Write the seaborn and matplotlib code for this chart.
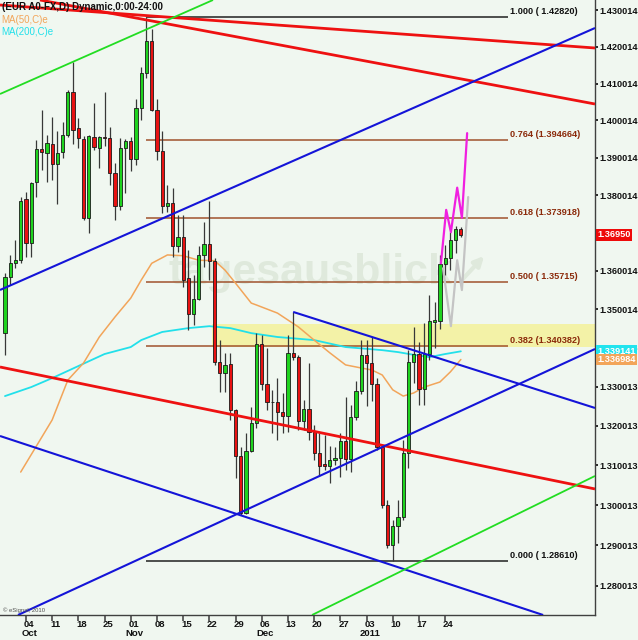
import numpy as np
import pandas as pd
import matplotlib
matplotlib.use("Agg")
import matplotlib.pyplot as plt
import matplotlib.transforms as mtransforms
import seaborn as sns
from matplotlib.ticker import FixedLocator, FixedFormatter, NullLocator

# ==============================
# DATA  (EUR A0-FX daily bars)
# ==============================
dates = pd.bdate_range("2010-09-28", "2011-01-27")

opens = [1.3438, 1.3584, 1.3620, 1.3628, 1.3790, 1.3674, 1.3835, 1.3923, 1.3913, 1.3937,
         1.3883, 1.3915, 1.3961, 1.4077, 1.3980, 1.3950, 1.3740, 1.3956, 1.3926, 1.3956,
         1.3953, 1.3860, 1.3771, 1.3926, 1.3945, 1.3897, 1.4035, 1.4129, 1.4216, 1.4028,
         1.3918, 1.3771, 1.3779, 1.3666, 1.3689, 1.3581, 1.3487, 1.3526, 1.3642, 1.3671,
         1.3627, 1.3364, 1.3335, 1.3359, 1.3241, 1.3123, 1.2980, 1.3136, 1.3208, 1.3410,
         1.3307, 1.3261, 1.3260, 1.3235, 1.3225, 1.3386, 1.3377, 1.3213, 1.3243, 1.3184,
         1.3131, 1.3103, 1.3098, 1.3114, 1.3118, 1.3162, 1.3116, 1.3222, 1.3289, 1.3381,
         1.3361, 1.3307, 1.3147, 1.3000, 1.2901, 1.2949, 1.2970, 1.3131, 1.3364, 1.3383,
         1.3294, 1.3383, 1.3468, 1.3470, 1.3618, 1.3635, 1.3682, 1.3710]
highs = [1.3594, 1.3642, 1.3682, 1.3795, 1.3809, 1.3835, 1.3948, 1.4028, 1.3961, 1.4010,
         1.3972, 1.3996, 1.4082, 1.4159, 1.4007, 1.3958, 1.3960, 1.4047, 1.3958, 1.4077,
         1.3983, 1.3886, 1.3953, 1.3950, 1.3956, 1.4058, 1.4145, 1.4282, 1.4249, 1.4058,
         1.3972, 1.3826, 1.3819, 1.3748, 1.3748, 1.3655, 1.3589, 1.3666, 1.3729, 1.3785,
         1.3635, 1.3420, 1.3386, 1.3386, 1.3243, 1.3147, 1.3182, 1.3248, 1.3439, 1.3433,
         1.3399, 1.3292, 1.3322, 1.3284, 1.3433, 1.3493, 1.3381, 1.3266, 1.3361, 1.3202,
         1.3182, 1.3177, 1.3149, 1.3147, 1.3182, 1.3273, 1.3253, 1.3314, 1.3420, 1.3420,
         1.3428, 1.3322, 1.3151, 1.3012, 1.2963, 1.3012, 1.3164, 1.3394, 1.3454, 1.3415,
         1.3465, 1.3537, 1.3519, 1.3642, 1.3669, 1.3702, 1.3718, 1.3715]
lows = [1.3381, 1.3563, 1.3607, 1.3620, 1.3637, 1.3637, 1.3795, 1.3867, 1.3835, 1.3840,
        1.3777, 1.3900, 1.3956, 1.3937, 1.3926, 1.3735, 1.3700, 1.3921, 1.3873, 1.3932,
        1.3827, 1.3735, 1.3761, 1.3806, 1.3865, 1.3880, 1.4001, 1.4116, 1.4025, 1.3894,
        1.3753, 1.3756, 1.3637, 1.3650, 1.3558, 1.3446, 1.3460, 1.3524, 1.3610, 1.3576,
        1.3356, 1.3287, 1.3287, 1.3215, 1.3068, 1.2975, 1.2978, 1.3134, 1.3194, 1.3292,
        1.3241, 1.3182, 1.3164, 1.3182, 1.3184, 1.3369, 1.3189, 1.3189, 1.3164, 1.3114,
        1.3073, 1.3089, 1.3056, 1.3101, 1.3071, 1.3089, 1.3084, 1.3215, 1.3281, 1.3251,
        1.3263, 1.3139, 1.2992, 1.2893, 1.2861, 1.2906, 1.2963, 1.3093, 1.3310, 1.3254,
        1.3253, 1.3369, 1.3399, 1.3449, 1.3589, 1.3602, 1.3648, 1.3690]
closes = [1.3584, 1.3620, 1.3628, 1.3785, 1.3674, 1.3832, 1.3923, 1.3915, 1.3940, 1.3883,
          1.3913, 1.3961, 1.4077, 1.3975, 1.3953, 1.3740, 1.3958, 1.3929, 1.3956, 1.3954,
          1.3860, 1.3771, 1.3926, 1.3945, 1.3897, 1.4035, 1.4129, 1.4216, 1.4028, 1.3918,
          1.3771, 1.3779, 1.3666, 1.3689, 1.3576, 1.3487, 1.3526, 1.3642, 1.3671, 1.3627,
          1.3364, 1.3335, 1.3356, 1.3241, 1.3123, 1.2980, 1.3136, 1.3208, 1.3410, 1.3307,
          1.3261, 1.3260, 1.3235, 1.3225, 1.3386, 1.3377, 1.3213, 1.3243, 1.3184, 1.3131,
          1.3098, 1.3098, 1.3114, 1.3118, 1.3162, 1.3116, 1.3222, 1.3289, 1.3381, 1.3361,
          1.3307, 1.3147, 1.3000, 1.2901, 1.2949, 1.2970, 1.3131, 1.3364, 1.3383, 1.3294,
          1.3383, 1.3470, 1.3473, 1.3618, 1.3635, 1.3682, 1.3710, 1.3695]

# moving averages (sampled points along the drawn curves)
ma50_idx = [3, 9, 12, 15, 18, 21, 24, 26, 28, 31, 34, 37, 40, 42, 44, 47, 48, 52, 56, 59,
            62, 65, 68, 70, 72, 74, 76, 78, 80, 83, 85, 87]
ma50_val = [1.3083, 1.3215, 1.3317, 1.3361, 1.3428, 1.3480, 1.3529, 1.3576, 1.3620, 1.3642,
            1.3640, 1.3628, 1.3627, 1.3602, 1.3568, 1.3516, 1.3511, 1.3490, 1.3454, 1.3420,
            1.3387, 1.3356, 1.3348, 1.3343, 1.3330, 1.3292, 1.3276, 1.3284, 1.3299, 1.3312,
            1.3338, 1.3370]
ma200_idx = [0, 5, 9, 14, 19, 24, 26, 30, 35, 39, 43, 47, 52, 59, 65, 72, 75, 78, 81, 84, 87]
ma200_val = [1.3276, 1.3299, 1.3322, 1.3353, 1.3384, 1.3402, 1.3420, 1.3441, 1.3451, 1.3456,
             1.3451, 1.3438, 1.3428, 1.3420, 1.3402, 1.3394, 1.3389, 1.3382, 1.3376, 1.3384,
             1.3391]

# fibonacci retracement
fib_ratios = ["1.000", "0.764", "0.618", "0.500", "0.382", "0.000"]
fib_levels = [1.4282, 1.394664, 1.373918, 1.35715, 1.340382, 1.2861]
fib_texts = ["( 1.42820)", "(1.394664)", "(1.373918)", "( 1.35715)", "(1.340382)", "( 1.28610)"]

# trend lines: (x0, y0, x1, y1) in bar index / price
red_lines = [(-0.95, 1.43151, 112.6, 1.41970),
             (6.68, 1.43289, 112.6, 1.40446),
             (-0.95, 1.33506, 112.6, 1.30405)]
blue_lines = [(-0.95, 1.35502, 112.6, 1.42518),
              (-0.95, 1.31743, 102.7, 1.27276),
              (2.48, 1.27276, 112.6, 1.33970),
              (55.0, 1.3493, 112.6, 1.32456)]
green_lines = [(-0.95, 1.40717, 39.7, 1.43289),
               (58.6, 1.27276, 112.6, 1.30732)]

# projected paths
proj_pink_idx = [83.2, 84.2, 85.1, 86.3, 87.2, 88.2]
proj_pink_val = [1.3620, 1.3761, 1.3702, 1.3820, 1.3740, 1.3966]
proj_gray_idx = [83.6, 85.1, 86.3, 87.2, 88.4]
proj_gray_val = [1.3607, 1.3456, 1.3628, 1.3550, 1.3795]

zone_lo, zone_hi = 1.3402, 1.3462

# 1.370014 sits under the last-price box and is not visible
price_ticks = [1.430014, 1.420014, 1.410014, 1.400014, 1.390014, 1.380014,
               1.360014, 1.350014, 1.340013, 1.330013, 1.320013, 1.310013, 1.300013,
               1.290013, 1.280013]
day_labels = ["04", "11", "18", "25", "01", "08", "15", "22", "29", "06", "13", "20", "27",
              "03", "10", "17", "24"]
month_labels = ["Oct", "Nov", "Dec", "2011"]

last_price = 1.36950
ma200_last = 1.339141
ma50_last = 1.336984

# ==============================
# STYLE
# ==============================
BG = "#f0f7f0"
sns.set_theme(style="white", rc={"axes.facecolor": BG, "figure.facecolor": BG})
plt.rcParams["font.family"] = ["Liberation Sans", "DejaVu Sans"]

fig = plt.figure(figsize=(6.38, 6.40), dpi=100)
ax = fig.add_axes([0, 25 / 640, 595 / 638, 615 / 640])
ax.set_yscale("log")
ax.set_xlim(-0.95, 112.6)
ax.set_ylim(1.27276, 1.43289)

# watermark
ax.text(0.284, 0.538, "tagesausblick", transform=ax.transAxes, fontsize=31,
        fontweight="bold", color="#dfe9dc", zorder=0.5)
ax.annotate("", xy=(486 / 595, 1 - 254 / 615), xytext=(460 / 595, 1 - 282 / 615),
            xycoords="axes fraction",
            arrowprops=dict(arrowstyle="-|>", color="#dfe9dc", lw=3, mutation_scale=14),
            zorder=0.5)

# support zone
ax.fill_between([39.5, 112.6], zone_lo, zone_hi, color="#f4f29a", alpha=0.85, lw=0, zorder=1)

# fib lines
fib_colors = ["#202020", "#a0522d", "#a0522d", "#a0522d", "#a0522d", "#202020"]
txt_colors = ["#101010", "#8b2a0a", "#8b2a0a", "#8b2a0a", "#8b2a0a", "#101010"]
for lvl, col in zip(fib_levels, fib_colors):
    ax.hlines(lvl, 27, 96, color=col, lw=1.1, zorder=2)
for r, lvl, t, tc in zip(fib_ratios, fib_levels, fib_texts, txt_colors):
    ax.annotate(f"{r} {t}", xy=(96.4, lvl), xytext=(0, 4), textcoords="offset points",
                fontsize=6.6, fontweight="bold", color=tc, va="center", ha="left", zorder=6)

# moving averages
sns.lineplot(x=ma200_idx, y=ma200_val, ax=ax, color="#22e0ea", lw=1.3, zorder=2.5)
sns.lineplot(x=ma50_idx, y=ma50_val, ax=ax, color="#f2a55a", lw=1.1, zorder=2.5)

# candles
idx = np.arange(len(opens))
o, h, l, c = map(np.array, (opens, highs, lows, closes))
up = c >= o
ax.vlines(idx, l, h, color="#383838", lw=0.9, zorder=3)
body = np.maximum(np.abs(c - o), 0.0001)
ax.bar(idx, body, bottom=np.minimum(o, c), width=0.62,
       color=np.where(up, "#1fd31f", "#e81212"), edgecolor="#1a1a1a", linewidth=0.6, zorder=4)

# trend lines
for x0, y0, x1, y1 in red_lines:
    ax.plot([x0, x1], [y0, y1], color="#ee1111", lw=2.0, zorder=5, solid_capstyle="butt")
for x0, y0, x1, y1 in blue_lines:
    ax.plot([x0, x1], [y0, y1], color="#1414d8", lw=1.5, zorder=5, solid_capstyle="butt")
for x0, y0, x1, y1 in green_lines:
    ax.plot([x0, x1], [y0, y1], color="#22dd22", lw=1.3, zorder=5, solid_capstyle="butt")

# projections
ax.plot(proj_gray_idx, proj_gray_val, color="#c4c4c4", lw=1.6, zorder=5)
ax.plot(proj_pink_idx, proj_pink_val, color="#f020e0", lw=1.6, zorder=5.5)

# axes
for s in ("left", "top"):
    ax.spines[s].set_visible(False)
for s in ("bottom", "right"):
    ax.spines[s].set_color("#404040")
    ax.spines[s].set_linewidth(1.0)

ax.yaxis.tick_right()
ax.yaxis.set_major_locator(FixedLocator(price_ticks))
ax.yaxis.set_major_formatter(FixedFormatter([f"{p:.6f}" for p in price_ticks]))
ax.yaxis.set_minor_locator(NullLocator())
ax.tick_params(axis="y", which="major", right=True, direction="out", length=2,
               pad=1.5, labelsize=6.6, colors="#111111")
for lbl in ax.get_yticklabels():
    lbl.set_fontweight("bold")

mondays = [i for i, d in enumerate(dates) if d.weekday() == 0]
ax.set_xticks(mondays)
ax.set_xticklabels([])
ax.tick_params(axis="x", bottom=True, direction="out", length=4, color="#505050")
ax.grid(False)

xfm = mtransforms.blended_transform_factory(ax.transData, ax.transAxes)
prev_month = None
mi = 0
for pos, lab in zip(mondays, day_labels):
    ax.text(pos + 0.6, -0.0195, lab, transform=xfm, fontsize=6.8, fontweight="bold",
            ha="center", va="baseline", color="#111111")
    m = dates[pos].month
    if m != prev_month:
        ax.text(pos + 0.6, -0.0335, month_labels[mi], transform=xfm, fontsize=6.8,
                fontweight="bold", ha="center", va="baseline", color="#111111")
        mi += 1
    prev_month = m

# price boxes on the right axis
yfm = mtransforms.blended_transform_factory(ax.transAxes, ax.transData)
for val, txt, fc in [(last_price, "1.36950", "#ee0a0a"),
                     (ma200_last, "1.339141", "#22e4ee"),
                     (ma50_last, "1.336984", "#f2a55a")]:
    ax.text(1.004, val, txt, transform=yfm, fontsize=6.6, fontweight="bold", color="white",
            va="center", ha="left", zorder=10, clip_on=False,
            bbox=dict(boxstyle="square,pad=0.15", fc=fc, ec="none"))

# header texts
fig.text(2 / 638, 1 - 7 / 640, "(EUR A0-FX,D) Dynamic,0:00-24:00", fontsize=7,
         fontweight="bold", color="#111111", va="center")
fig.text(1 / 638, 1 - 20 / 640, "MA(50,C)e", fontsize=7, color="#f2a55a", va="center")
fig.text(1 / 638, 1 - 32 / 640, "MA(200,C)e", fontsize=7, color="#22e0ea", va="center")
fig.text(3 / 638, 1 - 610 / 640, "\u00a9 eSignal, 2010", fontsize=4.2, color="#505050",
         va="center")

fig.savefig("out.png", dpi=100, facecolor=BG)
